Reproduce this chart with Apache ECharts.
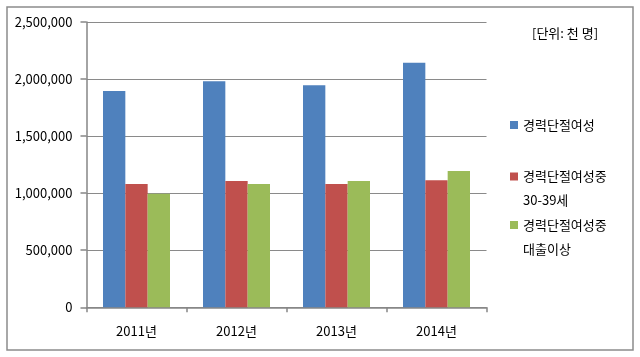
<!DOCTYPE html>
<html>
<head>
<meta charset="utf-8">
<script src="https://cdn.jsdelivr.net/npm/echarts@6/dist/echarts.min.js"></script>
<style>
html,body{margin:0;padding:0;background:#fff;}
#c{width:640px;height:357px;}
</style>
</head>
<body>
<div id="c"></div>
<script>
var categories = ['2011년', '2012년', '2013년', '2014년'];
var seriesNames = ['경력단절여성', '경력단절여성중\n30-39세', '경력단절여성중\n대출이상'];
var totalWomen = [1895000, 1981000, 1946000, 2144000];
var age30to39 = [1081000, 1107000, 1081000, 1113000];
var college = [995000, 1081000, 1107000, 1195000];
var yTicks = [0, 500000, 1000000, 1500000, 2000000, 2500000];
var unitLabel = '[단위: 천 명]';

var FONT = '"Noto Sans CJK KR", "Noto Sans", sans-serif';
var colors = ['#4F81BD', '#C0504D', '#9BBB59'];
var chart = echarts.init(document.getElementById('c'), null, {renderer: 'canvas'});

function legendCfg(name, top, multi) {
  return {
    data: [name],
    left: 510,
    top: top,
    orient: 'vertical',
    padding: 0,
    itemWidth: 8,
    itemHeight: 8,
    icon: 'rect',
    selectedMode: false,
    formatter: function (n) { return multi ? ' \n' + n : n; },
    textStyle: {
      fontFamily: FONT,
      fontSize: 13,
      color: '#000',
      lineHeight: 24
    }
  };
}

var option = {
  animation: false,
  backgroundColor: '#fff',
  color: colors,
  grid: {left: 86.5, right: 153.5, top: 22, bottom: 49.7, containLabel: false},
  graphic: [
    {type: 'rect', shape: {x: 7, y: 7, width: 626, height: 343},
     style: {fill: 'none', stroke: '#8c8c8c', lineWidth: 1.5}, silent: true},
    {type: 'text', left: 532, top: 27,
     style: {text: unitLabel, font: '13px ' + FONT, fill: '#000'}}
  ],
  legend: [
    legendCfg(seriesNames[0], 113, false),
    legendCfg(seriesNames[1], 140.5, true),
    legendCfg(seriesNames[2], 189, true)
  ],
  xAxis: {
    type: 'category',
    data: categories,
    axisLine: {lineStyle: {color: '#868686', width: 1.5}},
    axisTick: {show: true, length: 5, lineStyle: {color: '#868686', width: 1.5}},
    axisLabel: {fontFamily: FONT, fontSize: 13, color: '#000', margin: 17}
  },
  yAxis: {
    type: 'value',
    min: 0,
    max: 2500000,
    interval: 500000,
    axisLine: {show: true, lineStyle: {color: '#868686', width: 1.5}},
    axisTick: {show: true, length: 6, lineStyle: {color: '#868686', width: 1.5}},
    splitLine: {lineStyle: {color: '#8a8a8a', width: 1.2}},
    axisLabel: {
      fontFamily: FONT, fontSize: 13, color: '#000', margin: 14,
      formatter: function (v) { return v.toString().replace(/\B(?=(\d{3})+(?!\d))/g, ','); }
    }
  },
  series: [
    {name: seriesNames[0], type: 'bar', data: totalWomen, barGap: '0%', barCategoryGap: '33%'},
    {name: seriesNames[1], type: 'bar', data: age30to39, barGap: '0%', barCategoryGap: '33%'},
    {name: seriesNames[2], type: 'bar', data: college, barGap: '0%', barCategoryGap: '33%'}
  ]
};
chart.setOption(option);
</script>
</body>
</html>
